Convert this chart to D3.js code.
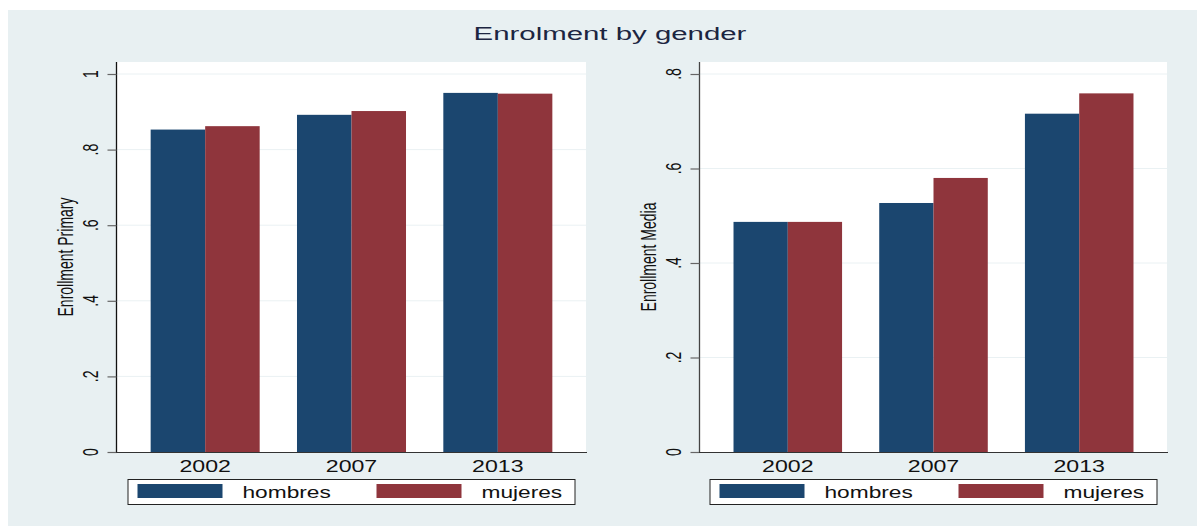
<!DOCTYPE html>
<html>
<head>
<meta charset="utf-8">
<script src="https://cdn.jsdelivr.net/npm/d3@7"></script>
<style>
  html, body { margin: 0; padding: 0; background: #ffffff; }
  svg { display: block; font-family: Arial, "Liberation Sans", sans-serif; }
</style>
</head>
<body>
<svg id="chart" width="1197" height="526"></svg>
<script>
// Enrolment rates by gender, survey years 2002 / 2007 / 2013
const years = ["2002", "2007", "2013"];
const seriesNames = ["hombres", "mujeres"];

const primaryHombres = [0.853, 0.892, 0.950];
const primaryMujeres = [0.862, 0.902, 0.948];

const mediaHombres = [0.487, 0.527, 0.716];
const mediaMujeres = [0.487, 0.580, 0.759];

const primaryTicks = [0, 0.2, 0.4, 0.6, 0.8, 1];
const mediaTicks = [0, 0.2, 0.4, 0.6, 0.8];

const chartTitle = "Enrolment by gender";
const primaryLabel = "Enrollment Primary";
const mediaLabel = "Enrollment Media";

const colors = { hombres: "#1b466f", mujeres: "#8f353c" };
const textColor = "#111111";

const svg = d3.select("#chart");

// Stata-style tick label: ".2" instead of "0.2"
const fmtTick = v => v === 0 ? "0" : (v === 1 ? "1" : d3.format(".1f")(v).replace(/^0/, ""));

// horizontal text, horizontally widened
function hText(parent, x, y, str, size, sx, anchor, fill) {
  return parent.append("text")
    .attr("transform", `translate(${x},${y}) scale(${sx},1)`)
    .attr("text-anchor", anchor || "start")
    .attr("font-size", size)
    .attr("fill", fill || textColor)
    .text(str);
}
// vertical text (reads bottom to top), glyphs widened on screen x
function vText(parent, x, y, str, size, sx, fill) {
  return parent.append("text")
    .attr("transform", `translate(${x},${y}) rotate(-90) scale(1,${sx})`)
    .attr("text-anchor", "middle")
    .attr("font-size", size)
    .attr("fill", fill || textColor)
    .text(str);
}

// graph region
svg.append("rect").attr("x", 8).attr("y", 10).attr("width", 1189).attr("height", 516)
  .attr("fill", "#e8f0f2");

// title, stretched to its drawn width
const title = svg.append("text")
  .attr("font-size", 18.5).attr("fill", "#1c2541").attr("text-anchor", "middle")
  .text(chartTitle);
const tw = title.node().getComputedTextLength();
title.attr("transform", `translate(610,40) scale(${273 / tw},1)`);

function panel(opts) {
  const { left, right, top, bottom, yMax, ticks, hVals, mVals, yLabel, axisColor } = opts;
  const g = svg.append("g");

  const x = d3.scaleBand().domain(years).range([left, right])
    .paddingInner(0.255).paddingOuter(0.23);
  const xs = d3.scaleBand().domain(seriesNames).range([0, x.bandwidth()]);
  const y = d3.scaleLinear().domain([0, yMax]).range([bottom, 74]);

  // plot region
  g.append("rect").attr("x", left).attr("y", top)
    .attr("width", right - left).attr("height", bottom - top).attr("fill", "#ffffff");

  // gridlines
  g.selectAll("line.grid").data(ticks.filter(t => t > 0)).join("line")
    .attr("class", "grid")
    .attr("x1", left).attr("x2", right)
    .attr("y1", d => y(d)).attr("y2", d => y(d))
    .attr("stroke", "#eaf1f3").attr("stroke-width", 1);

  // bars
  const rows = years.map((yr, i) => ({ year: yr, hombres: hVals[i], mujeres: mVals[i] }));
  g.selectAll("g.year").data(rows).join("g")
    .attr("class", "year")
    .attr("transform", d => `translate(${x(d.year)},0)`)
    .selectAll("rect").data(d => seriesNames.map(s => ({ s, v: d[s] }))).join("rect")
    .attr("x", d => xs(d.s)).attr("width", xs.bandwidth())
    .attr("y", d => y(d.v)).attr("height", d => y(0) - y(d.v))
    .attr("fill", d => colors[d.s]);

  // y axis
  const yAxis = d3.axisLeft(y).tickValues(ticks).tickSize(9).tickFormat("");
  const ya = g.append("g").attr("transform", `translate(${left - 0.5},0)`).call(yAxis);
  ya.select(".domain").attr("d", `M0,${top}V${bottom}`).attr("stroke", axisColor).attr("stroke-width", 1.3);
  ya.selectAll(".tick line").attr("stroke", "#666").attr("stroke-width", 1.2);
  ticks.forEach(t => vText(g, left - 19, y(t), fmtTick(t), 14, 1.6));

  // x axis
  const xAxis = d3.axisBottom(x).tickSize(0).tickFormat("");
  const xa = g.append("g").attr("transform", `translate(0,${bottom + 0.5})`).call(xAxis);
  xa.select(".domain").attr("d", `M${left - 1},0H${right + 1}`).attr("stroke", "#333").attr("stroke-width", 1.2);
  years.forEach(yr => hText(g, x(yr) + x.bandwidth() / 2, 472, yr, 16.3, 1.42, "middle"));

  // y axis title
  vText(g, left - 44, (top + bottom) / 2, yLabel, 14, 1.55);

  // legend
  const lx = (left + right) / 2 - 224;
  const lg = g.append("g").attr("transform", `translate(${lx},479)`);
  lg.append("rect").attr("x", 0.5).attr("y", 0.5).attr("width", 447).attr("height", 25)
    .attr("fill", "#ffffff").attr("stroke", "#222").attr("stroke-width", 1);
  seriesNames.forEach((s, i) => {
    const ox = 10 + i * 239;
    lg.append("rect").attr("x", ox).attr("y", 5).attr("width", 85).attr("height", 14)
      .attr("fill", colors[s]);
    hText(lg, ox + 105, 18.5, s, 16, 1.42, "start");
  });
}

panel({ left: 117, right: 586, top: 62, bottom: 452, yMax: 1, ticks: primaryTicks,
        hVals: primaryHombres, mVals: primaryMujeres, yLabel: primaryLabel, axisColor: "#111" });
panel({ left: 700, right: 1167, top: 62, bottom: 452, yMax: 0.8, ticks: mediaTicks,
        hVals: mediaHombres, mVals: mediaMujeres, yLabel: mediaLabel, axisColor: "#444" });
</script>
</body>
</html>
